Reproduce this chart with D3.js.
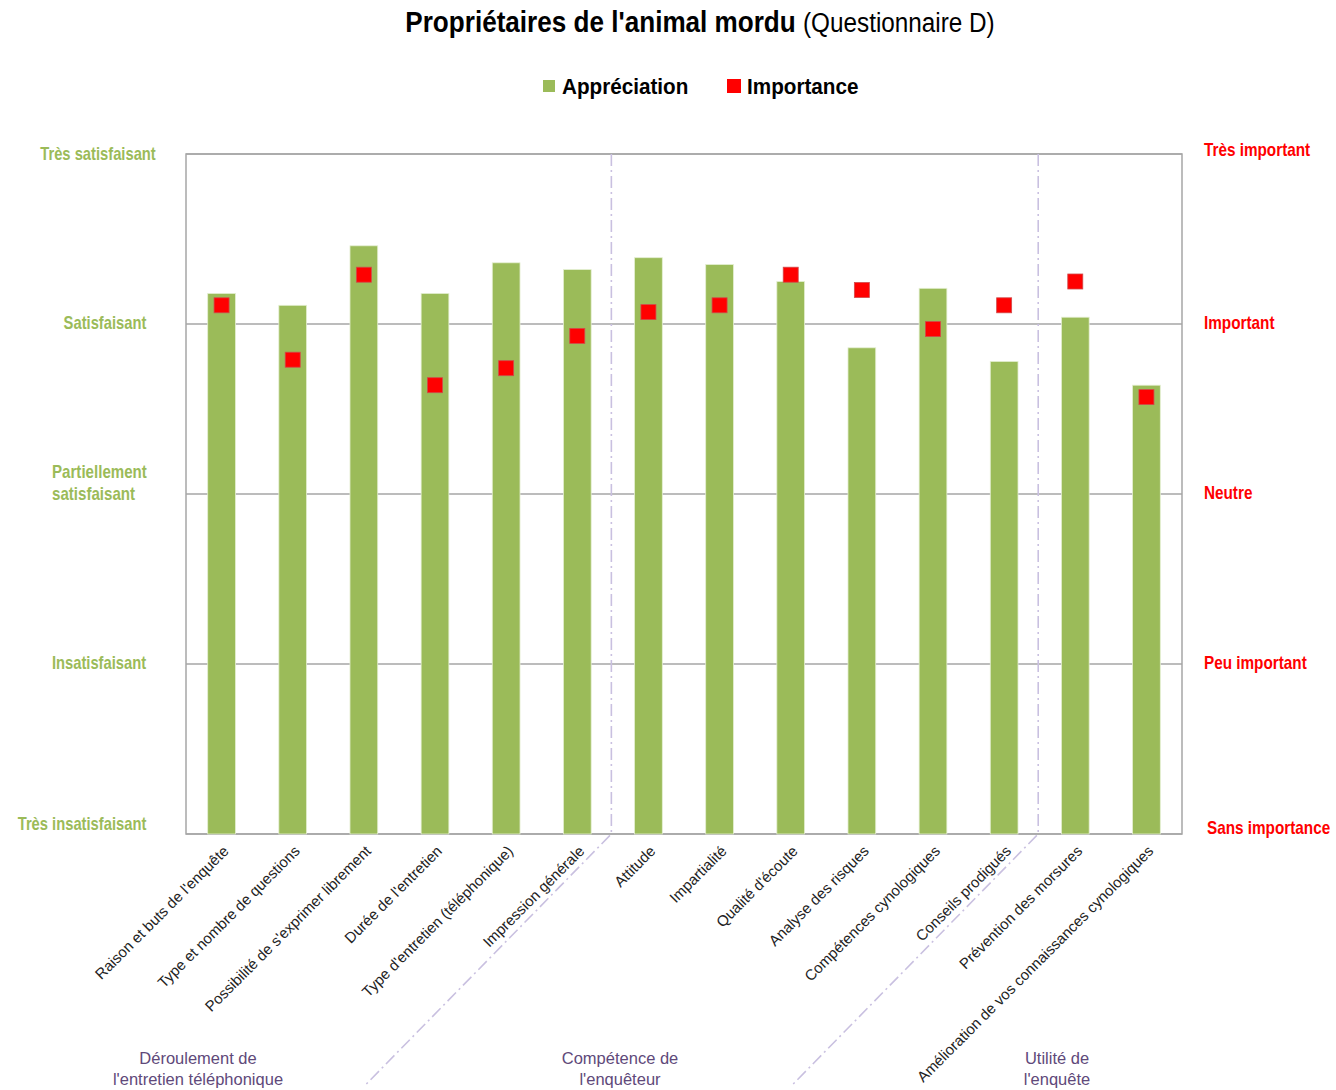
<!DOCTYPE html>
<html><head><meta charset="utf-8">
<script src="https://cdn.jsdelivr.net/npm/d3@7"></script>
<style>body{margin:0;background:#fff}svg{display:block}</style>
</head><body>
<script>
const categories = ["Raison et buts de l'enquête","Type et nombre de questions","Possibilité de s'exprimer librement","Durée de l'entretien","Type d'entretien (téléphonique)","Impression générale","Attitude","Impartialité","Qualité d'écoute","Analyse des risques","Compétences cynologiques","Conseils prodigués","Prévention des morsures","Amélioration de vos connaissances cynologiques"];
const appreciation = [3.18,3.11,3.46,3.18,3.36,3.32,3.39,3.35,3.25,2.86,3.21,2.78,3.04,2.64];
const importance = [3.11,2.79,3.29,2.64,2.74,2.93,3.07,3.11,3.29,3.20,2.97,3.11,3.25,2.57];
const leftLabels = [["Très insatisfaisant"],["Insatisfaisant"],["Partiellement","satisfaisant"],["Satisfaisant"],["Très satisfaisant"]];
const rightLabels = ["Sans importance","Peu important","Neutre","Important","Très important"];
const groups = [{label:["Déroulement de","l'entretien téléphonique"],from:0,to:5},{label:["Compétence de","l'enquêteur"],from:6,to:11},{label:["Utilité de","l'enquête"],from:12,to:13}];
const dividersAfter = [5,11];

const W=1336,H=1090;
const svg=d3.select("body").append("svg").attr("width",W).attr("height",H);
const L=186,R=1182,T=154,B=834;
const x=d3.scaleBand().domain(categories).range([L,R]).padding(0);
const y=d3.scaleLinear().domain([0,4]).range([B,T]);
const bw=x.bandwidth()*0.39;
const font="'Liberation Sans',Arial,sans-serif";

function sText(parent,px,py,sx){ return parent.append("g").attr("transform",`translate(${px},${py}) scale(${sx},1)`).append("text"); }

// title
const t=sText(svg,700,32,0.9).attr("text-anchor","middle").attr("font-family",font).attr("fill","#000");
t.append("tspan").attr("font-weight","bold").attr("font-size",29).text("Propriétaires  de l'animal  mordu ");
t.append("tspan").attr("font-size",27).text("(Questionnaire  D)");

// legend
const lg=svg.append("g").attr("font-family",font).attr("font-weight","bold").attr("font-size",22);
lg.append("rect").attr("x",543).attr("y",80).attr("width",12).attr("height",12).attr("fill","#9BBB59");
sText(lg,562,94,0.94).text("Appréciation");
lg.append("rect").attr("x",727).attr("y",79).attr("width",14).attr("height",14).attr("fill","#FF0000");
sText(lg,747,94,0.94).text("Importance");

// gridlines
svg.append("g").selectAll("line").data(d3.range(0,5)).join("line")
 .attr("x1",L).attr("x2",R).attr("y1",d=>y(d)).attr("y2",d=>y(d))
 .attr("stroke","#a6a6a6").attr("stroke-width",1.5);
svg.append("rect").attr("x",L).attr("y",T).attr("width",R-L).attr("height",B-T).attr("fill","none").attr("stroke","#a6a6a6").attr("stroke-width",1.5);

// bars
svg.append("g").selectAll("rect").data(categories).join("rect")
 .attr("x",(d)=>x(d)+x.bandwidth()/2-bw/2).attr("width",bw)
 .attr("y",(d,i)=>y(appreciation[i])).attr("height",(d,i)=>B-y(appreciation[i]))
 .attr("fill","#9BBB59").attr("stroke","#e4efd2").attr("stroke-width",0.8);

// dividers
const dv=svg.append("g").attr("fill","none").attr("stroke","#c9c0e0").attr("stroke-width",1.6).attr("stroke-dasharray","12,4,2,4");
dividersAfter.forEach(i=>{
  const bx=x(categories[i])+x.bandwidth();
  dv.append("path").attr("d",`M${bx-1.5},${T}L${bx-1.5},${B}L${bx-1.5-245},${B+250}`);
});

// importance markers
const ms=15;
svg.append("g").selectAll("rect").data(categories).join("rect")
 .attr("x",d=>x(d)+x.bandwidth()/2-ms/2).attr("y",(d,i)=>y(importance[i])-ms/2)
 .attr("width",ms).attr("height",ms).attr("fill","#FF0000").attr("stroke","#d14a4a").attr("stroke-width",0.8);

// left labels
const ll=svg.append("g").attr("font-family",font).attr("font-weight","bold").attr("font-size",18).attr("fill","#9BBB59");
leftLabels.forEach((lab,i)=>{
  const yy=y(i);
  if(lab.length===1){
    const cx=i===0?82:(i===4?98:(i===3?105:99));
    sText(ll,cx,yy+(i===0?-4:(i===4?6:5)),0.82).attr("text-anchor","middle").text(lab[0]);
  } else {
    const tx=sText(ll,52,yy-16,0.84);
    lab.forEach((s,k)=>tx.append("tspan").attr("x",0).attr("dy",k?22:0).text(s));
  }
});
// right labels
const rl=svg.append("g").attr("font-family",font).attr("font-weight","bold").attr("font-size",18).attr("fill","#FF0000");
rightLabels.forEach((s,i)=>{
  sText(rl,i===0?1207:1204,y(i)+(i===4?2:(i===0?0:5)),0.85).text(s);
});

// x tick labels
svg.append("g").attr("font-family",font).attr("font-size",15).attr("fill","#222")
 .selectAll("text").data(categories).join("text")
 .attr("text-anchor","end")
 .attr("transform",d=>`translate(${x(d)+x.bandwidth()/2+8},${B+18}) rotate(-45)`)
 .text(d=>d);

// group labels
const gl=svg.append("g").attr("font-family",font).attr("font-size",16.5).attr("fill","#60497A").attr("text-anchor","middle");
const gx=[198,620,1057];
groups.forEach((g,i)=>{
  const tx=gl.append("text").attr("y",1064);
  g.label.forEach((s,k)=>tx.append("tspan").attr("x",gx[i]).attr("dy",k?21:0).text(s));
});
</script>
</body></html>
